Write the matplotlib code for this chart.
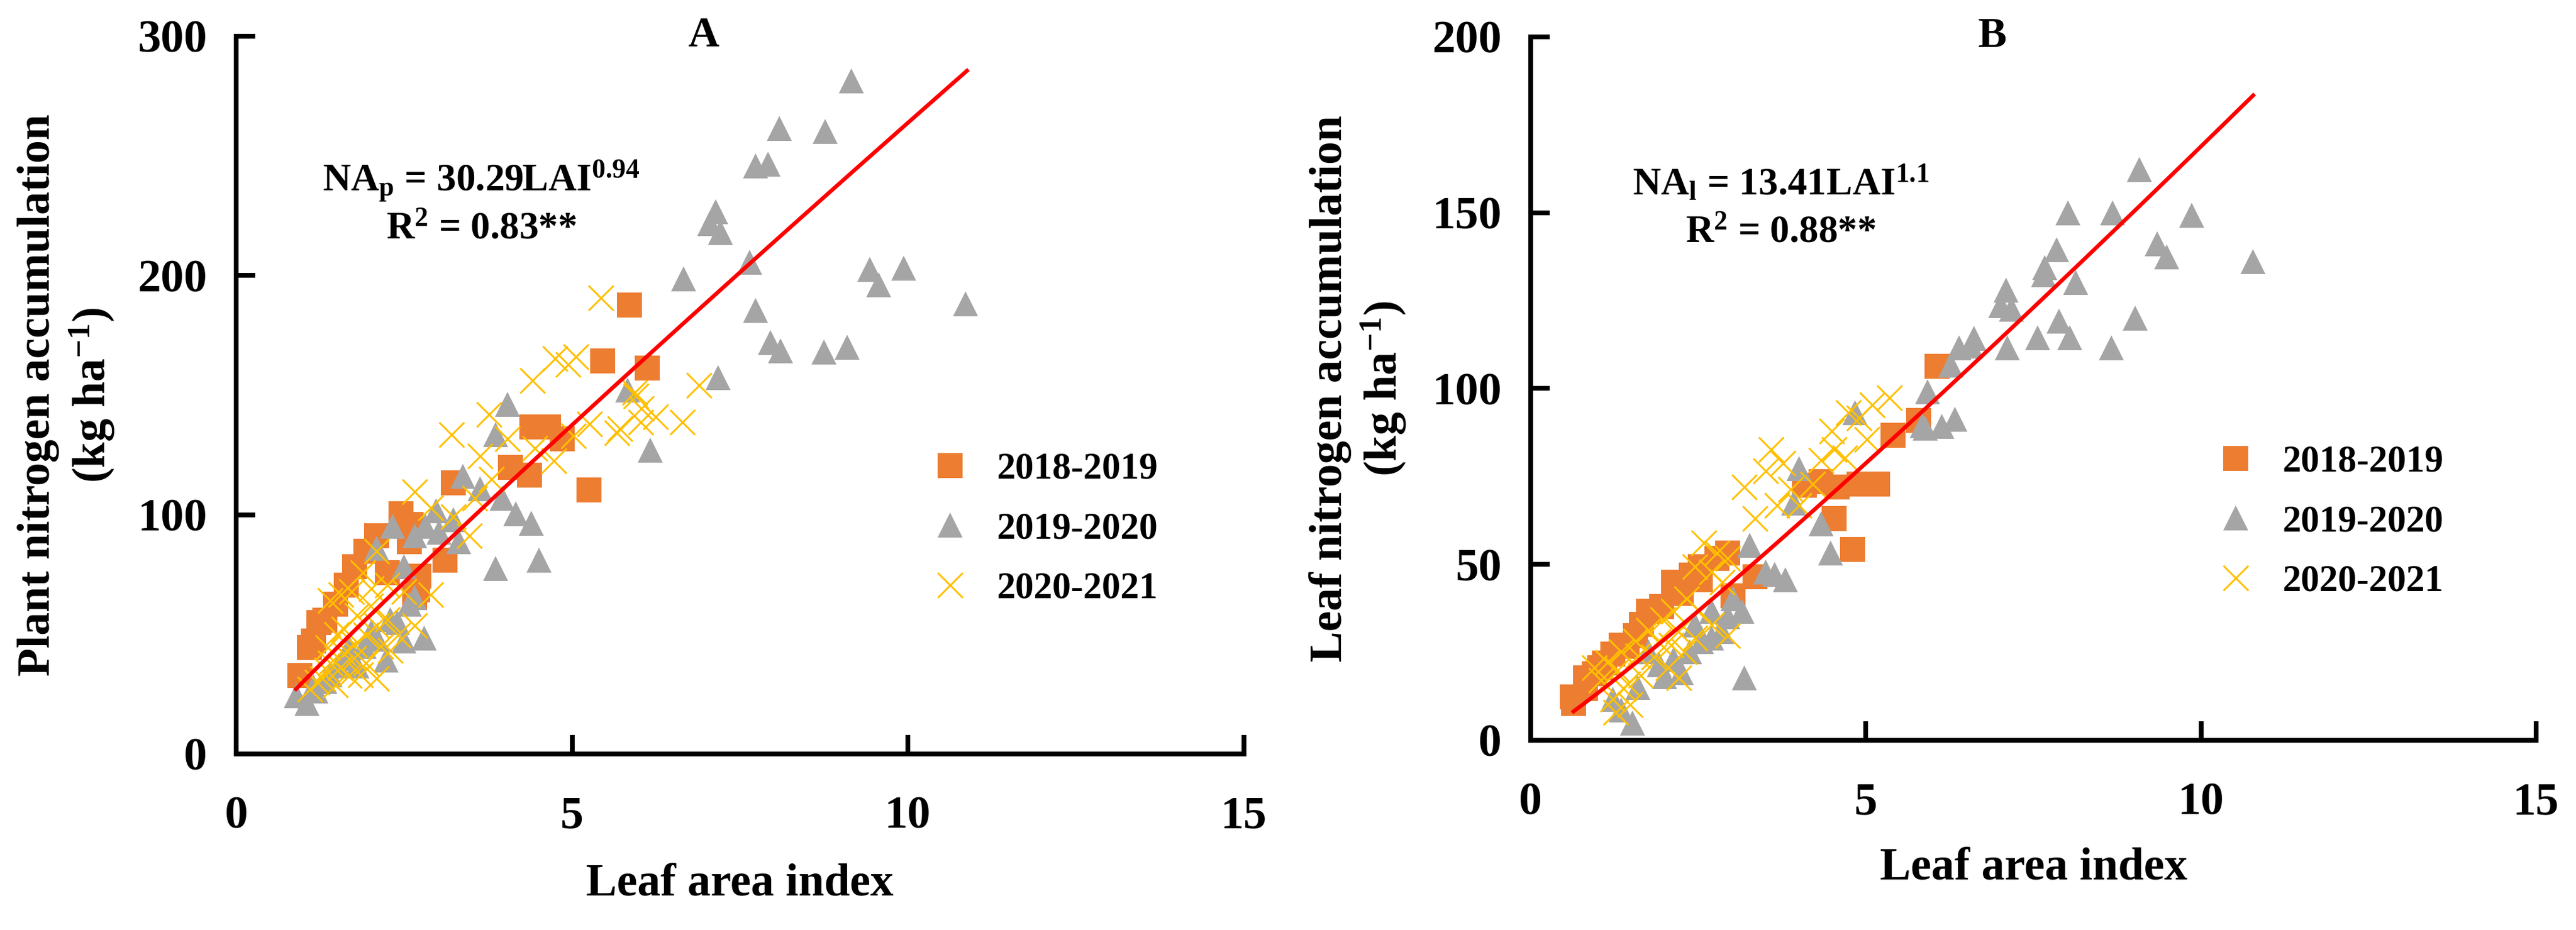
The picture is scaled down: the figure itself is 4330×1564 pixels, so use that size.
import matplotlib
matplotlib.use('Agg')
import matplotlib.pyplot as plt
import numpy as np

plt.rcParams['font.family'] = ['Liberation Serif', 'DejaVu Serif']
plt.rcParams['font.weight'] = 'bold'
plt.rcParams['mathtext.fontset'] = 'custom'
plt.rcParams['mathtext.rm'] = 'Liberation Serif:bold'
plt.rcParams['mathtext.it'] = 'Liberation Serif:bold'
plt.rcParams['mathtext.bf'] = 'Liberation Serif:bold'

seasons = ['2018-2019', '2019-2020', '2020-2021']
my_colors = ['#ED7D31', '#A5A5A5', '#FFC000']
my_markers = ['s', '^', 'x']

# panel A: plant nitrogen accumulation vs LAI
a_x_1819 = [5.85, 5.46, 6.12, 4.40, 4.65, 4.85, 4.08, 4.37, 5.25, 3.23, 3.11, 2.72, 2.45, 2.60,
            2.09, 1.76, 1.64, 1.23, 1.15, 1.09, 0.95, 1.32, 2.58, 1.48, 1.93, 2.25, 2.66, 2.70]
a_y_1819 = [187.7, 164.3, 161.4, 136.8, 136.8, 131.6, 119.9, 116.6, 110.4, 113.4, 80.9, 74.4, 100.4, 96.0,
            91.3, 78.3, 70.5, 54.9, 47.1, 44.5, 32.8, 56.0, 88.7, 62.7, 84.8, 75.7, 65.3, 68.5]

a_x_1920 = [9.16, 8.09, 8.77, 7.73, 7.92, 7.14, 7.05, 7.21, 7.64, 6.66, 9.43, 9.94, 9.57, 10.86, 7.73,
            7.95, 8.10, 8.75, 9.10, 7.17, 5.83, 6.16,
            4.04, 3.86, 3.37, 3.63, 3.96, 4.16, 4.39, 3.86, 4.51, 3.23, 3.31, 2.98, 2.82, 2.66, 2.33,
            2.50, 2.09, 2.66, 2.80, 2.50, 2.23, 2.29, 2.01, 1.68, 1.52, 1.32, 0.89, 1.05, 1.19, 1.80,
            2.58, 3.02, 1.40, 1.60, 1.90, 2.10, 1.15, 2.40]
a_y_1920 = [281.3, 261.5, 260.2, 245.8, 246.6, 226.7, 221.7, 218.0, 205.6, 198.7, 202.6, 203.1, 196.2, 188.2, 185.4,
            172.1, 168.4, 167.9, 170.1, 157.2, 152.2, 126.9,
            146.1, 133.5, 116.0, 110.8, 106.9, 100.4, 96.5, 77.6, 80.9, 97.8, 88.7, 101.7, 95.2, 91.3, 95.2,
            78.3, 86.1, 65.3, 48.4, 47.1, 39.3, 56.2, 51.0, 44.5, 36.7, 30.2, 24.4, 21.1, 26.3, 36.7,
            62.7, 92.6, 33.0, 40.0, 45.0, 48.0, 28.0, 55.0]

a_x_2021 = [5.43, 6.89, 5.93, 6.64, 6.24, 6.02, 5.71, 4.41, 4.75, 4.94, 5.06, 3.76, 3.21, 3.63, 4.04,
            4.45, 4.73, 5.02, 5.26, 5.67, 6.03, 5.95, 3.80, 3.55, 3.23, 3.47, 2.66, 2.90, 2.90, 2.50,
            2.09, 1.89, 1.56, 1.40, 1.72, 2.01, 2.25, 2.25, 2.66, 2.09, 1.93, 1.76, 1.60, 1.40, 1.28,
            1.48, 1.68, 2.09, 1.93, 2.29, 2.41, 1.36, 1.60,
            1.20, 1.35, 1.55, 1.75, 1.85, 2.15, 1.10, 1.50, 1.80, 2.00]
a_y_2021 = [190.7, 154.0, 151.0, 138.6, 141.0, 138.6, 136.0, 156.2, 165.3, 162.7, 166.0, 142.0, 133.5, 124.4, 131.6,
            127.7, 122.5, 132.9, 138.0, 134.2, 144.5, 149.7, 114.7, 106.9, 99.1, 91.3, 109.5, 103.0, 66.6, 67.9,
            84.8, 75.7, 66.6, 64.0, 67.9, 69.2, 70.5, 56.2, 53.6, 53.6, 49.7, 45.8, 41.9, 38.0, 31.5,
            28.9, 32.8, 31.5, 38.0, 43.2, 49.7, 44.5, 52.3,
            30.0, 35.0, 36.0, 40.0, 33.0, 45.0, 27.0, 50.0, 58.0, 62.0]

# panel B: leaf nitrogen accumulation vs LAI
b_x_1819 = [6.06, 5.41, 5.79, 5.18, 4.90, 4.57, 4.33, 4.08, 4.53, 4.80, 3.35, 2.94, 2.53, 2.13,
            1.76, 1.56, 1.23, 1.03, 0.82, 0.62, 0.64, 0.82, 1.44, 2.25, 2.78, 3.02, 2.53,
            1.10, 1.35, 1.65, 1.95, 2.40, 0.95]
b_y_1819 = [106.4, 86.7, 90.9, 72.8, 72.8, 72.0, 73.5, 72.5, 63.0, 54.3, 46.4, 53.2, 49.4, 44.9,
            36.6, 29.8, 24.5, 20.7, 17.7, 12.4, 10.5, 14.7, 26.7, 41.8, 51.7, 41.1, 45.6,
            22.0, 27.0, 33.0, 38.0, 47.0, 19.0]

b_x_1920 = [9.08, 8.02, 8.68, 9.86, 9.35, 9.49, 10.78, 7.85, 7.67, 7.65, 8.13, 7.09, 7.01, 7.17, 9.02,
            7.88, 8.04, 7.56, 7.11, 8.66, 6.61, 6.39, 6.27, 5.92, 6.33, 6.13, 5.89,
            6.57, 5.84, 4.84, 4.00, 3.92, 4.33, 4.47, 3.27, 3.51, 3.80, 3.64, 3.15, 2.94, 3.19, 2.70,
            2.45, 2.25, 2.13, 1.92, 1.76, 1.52, 1.23, 1.35, 2.37, 2.70, 3.02,
            1.60, 2.00, 2.55, 2.85]
b_y_1920 = [162.3, 150.0, 150.0, 149.3, 141.2, 137.5, 136.1, 139.5, 134.4, 132.4, 130.2, 128.0, 123.5, 122.6, 120.1,
            119.2, 114.5, 114.5, 111.6, 111.6, 114.2, 111.6, 106.6, 99.0, 91.3, 89.2, 88.8,
            112.0, 89.4, 93.2, 77.3, 67.5, 61.5, 53.2, 55.4, 47.9, 45.6, 47.1, 36.6, 35.1, 17.7, 29.0,
            32.8, 19.2, 23.0, 21.5, 25.2, 4.9, 11.7, 8.6, 25.2, 36.6, 40.3,
            15.0, 18.0, 28.0, 31.0]

b_x_2021 = [5.35, 5.10, 4.90, 4.74, 4.49, 5.02, 4.53, 4.33, 4.69, 3.59, 3.76, 3.51, 3.19, 3.88, 3.68,
            3.35, 4.00, 4.21, 2.58, 2.78, 2.94, 2.45, 2.70, 2.86, 2.33, 2.13, 1.97, 1.76, 1.56, 1.35,
            1.15, 0.95, 2.70, 2.94, 2.45, 2.29, 2.05, 1.84, 1.64, 1.39, 1.23, 1.27, 1.48, 2.21,
            1.05, 1.30, 1.60, 1.90, 2.20, 2.50, 2.10, 1.45]
b_y_2021 = [97.3, 95.4, 91.7, 93.2, 87.9, 85.6, 82.6, 79.6, 80.3, 82.6, 78.8, 76.6, 72.0, 71.3, 66.7,
            63.0, 66.7, 72.8, 56.2, 53.2, 51.7, 49.4, 47.9, 44.9, 40.3, 36.6, 34.3, 31.3, 28.3, 25.2,
            22.2, 20.7, 32.8, 29.8, 29.0, 25.2, 20.7, 23.7, 18.4, 14.7, 11.7, 7.9, 10.1, 17.7,
            17.0, 20.0, 24.0, 28.0, 31.0, 37.0, 27.0, 16.0]

# power fits shown on the chart: y = a * LAI^b, drawn over the LAI range of the data
fit_a = [30.29, 13.41]
fit_b = [0.94, 1.1]
fit_range = [(0.89, 10.88), (0.64, 10.78)]

panels = [
    dict(xs=[a_x_1819, a_x_1920, a_x_2021], ys=[a_y_1819, a_y_1920, a_y_2021],
         ylim=300, yticks=[0, 100, 200, 300], letter='A',
         ylabel='Plant nitrogen accumulation\n(kg ha$^{-1}$)',
         eq1='NA$_\\mathrm{p}$ = 30.29LAI$^\\mathrm{0.94}$', eq2='R$^\\mathrm{2}$ = 0.83**',
         eq_x=3.65, eq_y1=235.4, eq_y2=215.5),
    dict(xs=[b_x_1819, b_x_1920, b_x_2021], ys=[b_y_1819, b_y_1920, b_y_2021],
         ylim=200, yticks=[0, 50, 100, 150, 200], letter='B',
         ylabel='Leaf nitrogen accumulation\n(kg ha$^{-1}$)',
         eq1='NA$_\\mathrm{l}$ = 13.41LAI$^\\mathrm{1.1}$', eq2='R$^\\mathrm{2}$ = 0.88**',
         eq_x=3.73, eq_y1=155.2, eq_y2=141.7),
]

rects = [[0.0917, 0.1893, 0.3911, 0.7717], [0.5942, 0.2040, 0.3903, 0.7564]]
letter_x = [0.4635, 0.459]
leg_anchor = [(0.690, 0.313), (0.683, 0.310)]
ylab_x = [-0.119, -0.122]
xlab_y = [-0.152, -0.152]

fig = plt.figure(figsize=(43.3, 15.64), dpi=100)

for k, p in enumerate(panels):
    ax = fig.add_axes(rects[k])
    for i in range(3):
        if my_markers[i] == 'x':
            ax.plot(p['xs'][i], p['ys'][i], linestyle='none', marker='x', markersize=30,
                    markeredgewidth=2.2, color=my_colors[i], label=seasons[i], zorder=3)
        else:
            ax.plot(p['xs'][i], p['ys'][i], linestyle='none', marker=my_markers[i], markersize=30,
                    markeredgewidth=0, color=my_colors[i], label=seasons[i], zorder=2 + i * 0.1)

    lai = np.linspace(fit_range[k][0], fit_range[k][1], 200)
    ax.plot(lai, fit_a[k] * lai ** fit_b[k], color='#FF0000', linewidth=4.8, zorder=5)

    ax.set_xlim(0, 15)
    ax.set_ylim(0, p['ylim'])
    ax.set_xticks([0, 5, 10, 15])
    ax.set_yticks(p['yticks'])
    for side in ['top', 'right']:
        ax.spines[side].set_visible(False)
    for side in ['left', 'bottom']:
        ax.spines[side].set_linewidth(5.8)
    ax.tick_params(axis='both', direction='in', length=23, width=5.8, labelsize=56)
    ax.tick_params(axis='y', pad=35)
    ax.tick_params(axis='x', pad=51)

    ax.set_xlabel('Leaf area index', fontsize=56, fontweight='bold')
    ax.xaxis.set_label_coords(0.5, xlab_y[k])
    ax.set_ylabel(p['ylabel'], fontsize=56, fontweight='bold', linespacing=1.2)
    ax.yaxis.set_label_coords(ylab_x[k], 0.5)

    ax.text(letter_x[k], 1.0, p['letter'], transform=ax.transAxes, ha='center', va='center',
            fontsize=52, fontweight='bold')
    ax.text(p['eq_x'], p['eq_y1'], p['eq1'], ha='center', va='baseline', fontsize=47, fontweight='bold')
    ax.text(p['eq_x'], p['eq_y2'], p['eq2'], ha='center', va='baseline', fontsize=47, fontweight='bold')

    ax.legend(loc='center left', bbox_to_anchor=leg_anchor[k], frameon=False, fontsize=45,
              borderpad=0, borderaxespad=0, handlelength=1.0, handletextpad=0.75,
              labelspacing=0.68, markerscale=1.0)

plt.savefig('out.png', dpi=100)
